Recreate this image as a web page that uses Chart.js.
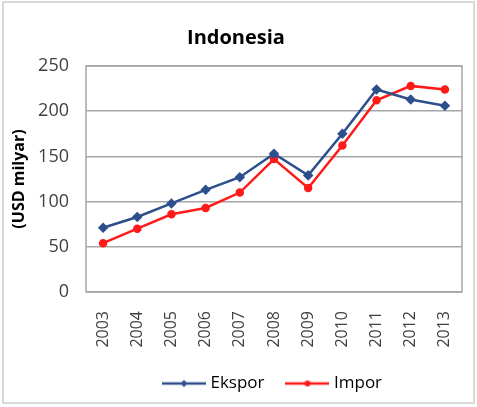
<!DOCTYPE html>
<html>
<head>
<meta charset="utf-8">
<script src="https://cdn.jsdelivr.net/npm/chart.js@4/dist/chart.umd.min.js"></script>
<style>
  html, body { margin: 0; padding: 0; background: #fff; }
  #box { width: 477px; height: 407px; }
</style>
</head>
<body>
<div id="box"><canvas id="chart" width="477" height="407"></canvas></div>
<script>
const years = ['2003', '2004', '2005', '2006', '2007', '2008', '2009', '2010', '2011', '2012', '2013'];
const ekspor = [71, 83, 98, 113, 127, 153, 129, 175, 224, 213, 206];
const impor = [54, 70, 86, 93, 110, 147, 115, 162, 212, 228, 224];
const yTicks = [0, 50, 100, 150, 200, 250];

const BLUE = '#2D4F8B';
const RED = '#FF1A1A';

// small legend swatch: a line with the series marker in the middle
function swatch(color, marker) {
  const c = document.createElement('canvas');
  c.width = 44;
  c.height = 10;
  const g = c.getContext('2d');
  g.strokeStyle = color;
  g.lineWidth = 2.5;
  g.beginPath();
  g.moveTo(0, 5);
  g.lineTo(44, 5);
  g.stroke();
  g.fillStyle = color;
  g.beginPath();
  if (marker === 'diamond') {
    g.moveTo(22, 1.5); g.lineTo(25.5, 5); g.lineTo(22, 8.5); g.lineTo(18.5, 5);
  } else {
    g.arc(22, 5, 3, 0, Math.PI * 2);
  }
  g.closePath();
  g.fill();
  return c;
}

const frame = {
  id: 'frame',
  beforeDraw(chart) {
    const ctx = chart.ctx;
    ctx.save();
    ctx.strokeStyle = '#d9d9d9';
    ctx.lineWidth = 2;
    ctx.strokeRect(3, 2, 471, 401);
    ctx.restore();
  },
  beforeDatasetsDraw(chart) {
    // plot area outline
    const a = chart.chartArea;
    const ctx = chart.ctx;
    ctx.save();
    ctx.strokeStyle = '#a6a6a6';
    ctx.lineWidth = 1.5;
    ctx.strokeRect(a.left, a.top, a.right - a.left, a.bottom - a.top);
    ctx.restore();
  }
};

const ctx = document.querySelector('#chart').getContext('2d');
new Chart(ctx, {
  type: 'line',
  data: {
    labels: years,
    datasets: [
      {
        label: 'Ekspor',
        data: ekspor,
        borderColor: BLUE,
        backgroundColor: BLUE,
        borderWidth: 2.5,
        pointStyle: 'rectRot',
        pointRadius: 3.5,
        tension: 0
      },
      {
        label: 'Impor',
        data: impor,
        borderColor: RED,
        backgroundColor: RED,
        borderWidth: 2.5,
        pointStyle: 'circle',
        pointRadius: 3,
        tension: 0
      }
    ]
  },
  options: {
    responsive: false,
    animation: false,
    layout: { padding: { left: 10, right: 15, top: 0, bottom: 5 } },
    scales: {
      x: {
        offset: true,
        grid: { display: false },
        border: { display: false },
        ticks: {
          minRotation: 90,
          maxRotation: 90,
          padding: 11,
          color: '#404040',
          font: { family: 'Open Sans', size: 16 }
        },
        afterFit(scale) { scale.height = 58; }
      },
      y: {
        min: 0,
        max: 250,
        afterBuildTicks(scale) { scale.ticks = yTicks.map(v => ({ value: v })); },
        grid: { color: '#a6a6a6', lineWidth: 1.5, drawTicks: false },
        border: { display: false },
        ticks: {
          padding: 17,
          color: '#404040',
          font: { family: 'Open Sans', size: 18 }
        },
        title: {
          display: true,
          text: '(USD milyar)',
          color: '#000',
          padding: { top: 0, bottom: 3 },
          font: { family: 'Open Sans', size: 16, weight: 'bold' }
        },
        afterFit(scale) { scale.width = 76; }
      }
    },
    plugins: {
      title: {
        display: true,
        text: 'Indonesia',
        color: '#000',
        padding: { top: 26, bottom: 16 },
        font: { family: 'Open Sans', size: 20, weight: 'bold' }
      },
      legend: {
        position: 'bottom',
        fullSize: false,
        labels: {
          usePointStyle: true,
          pointStyleWidth: 36,
          boxHeight: 2,
          padding: 25,
          color: '#404040',
          font: { family: 'Open Sans', size: 17 },
          generateLabels(chart) {
            return [
              { text: 'Ekspor', pointStyle: swatch(BLUE, 'diamond'), fillStyle: BLUE, strokeStyle: BLUE, lineWidth: 0, datasetIndex: 0 },
              { text: 'Impor', pointStyle: swatch(RED, 'circle'), fillStyle: RED, strokeStyle: RED, lineWidth: 0, datasetIndex: 1 }
            ];
          }
        }
      },
      tooltip: { enabled: false }
    }
  },
  plugins: [frame]
});
</script>
</body>
</html>
